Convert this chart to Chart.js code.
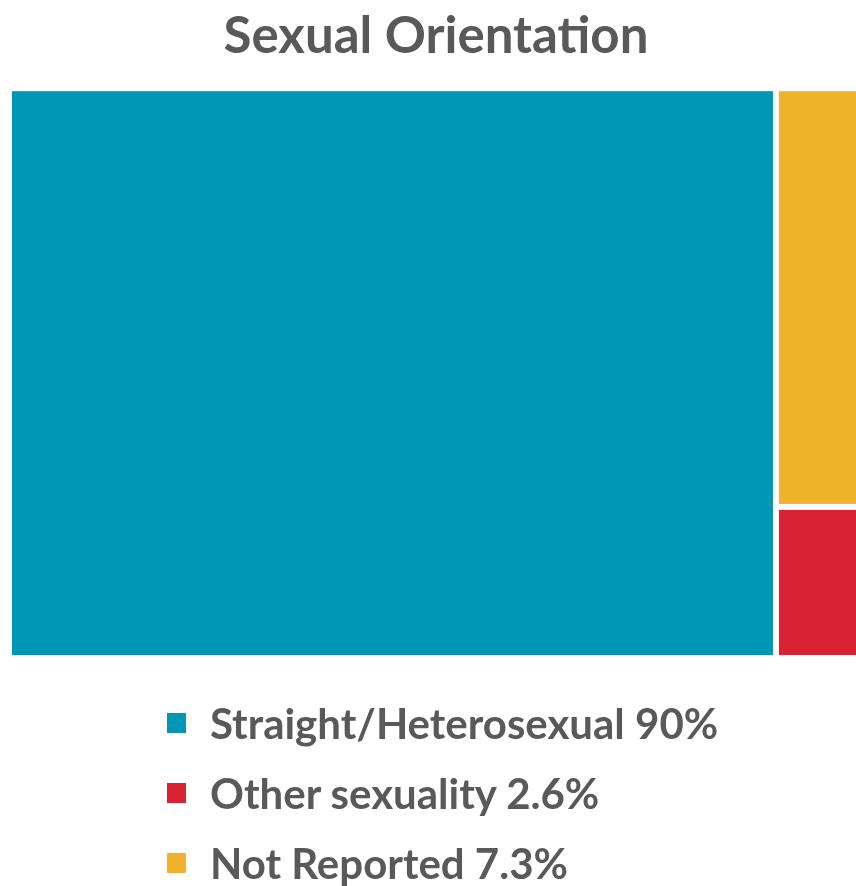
<!DOCTYPE html>
<html>
<head>
<meta charset="utf-8">
<script src="https://cdn.jsdelivr.net/npm/chart.js@4.4.0/dist/chart.umd.min.js"></script>
<style>
    html, body { margin: 0; padding: 0; background: #fff; overflow: hidden; }
    #wrap { position: relative; width: 856px; height: 886px; overflow: hidden; }
    #legend {
        position: absolute; left: 167px; top: 688px;
        list-style: none; margin: 0; padding: 0;
        font-family: Lato, "Open Sans", sans-serif; font-weight: bold;
        font-size: 42px; color: #595959;
    }
    #legend li { display: flex; align-items: center; height: 70px; }
    #legend .box { width: 19px; height: 20px; margin-right: 24px; flex-shrink: 0; }
</style>
</head>
<body>
<div id="wrap">
    <canvas id="chart" width="860" height="886"></canvas>
    <ul id="legend"></ul>
</div>
<script>
// Data
const categories = ['Straight/Heterosexual', 'Other sexuality', 'Not Reported'];
const values = [90, 2.6, 7.3];
const valueLabels = ['90%', '2.6%', '7.3%'];
const colors = ['#0096B6', '#D92232', '#F0B22A'];

const total = values.reduce((a, b) => a + b, 0);
const GAP = 6;

/**
 * Lay out the treemap in data units: the first (largest) item takes a full
 * column, the others share the remaining column, stacked top to bottom
 */
function layoutTreemap() {
    const rects = [];
    const leftW = values[0];
    rects.push({ i: 0, x0: 0, x1: leftW, y0: 0, y1: 100 });

    // right column: Not Reported on top, Other sexuality below
    const restOrder = [2, 1];
    const restTotal = restOrder.reduce((s, i) => s + values[i], 0);
    let yTop = 100;
    restOrder.forEach(i => {
        const h = values[i] / restTotal * 100;
        rects.push({ i: i, x0: leftW, x1: total, y0: yTop - h, y1: yTop });
        yTop -= h;
    });
    return rects;
}

const treemapPlugin = {
    id: 'treemapRects',
    beforeDatasetsDraw(chart) {
        const { ctx, chartArea, scales } = chart;
        const x = scales.x, y = scales.y;
        ctx.save();
        layoutTreemap().forEach(r => {
            let left = x.getPixelForValue(r.x0);
            let right = x.getPixelForValue(r.x1);
            let top = y.getPixelForValue(r.y1);
            let bottom = y.getPixelForValue(r.y0);
            // white gaps only between tiles
            if (left > chartArea.left + 1) left += GAP / 2;
            if (right < chartArea.right - 1) right -= GAP / 2;
            if (top > chartArea.top + 1) top += GAP / 2;
            if (bottom < chartArea.bottom - 1) bottom -= GAP / 2;
            ctx.fillStyle = colors[r.i];
            ctx.fillRect(left, top, right - left, bottom - top);
        });
        ctx.restore();
    }
};

document.addEventListener('DOMContentLoaded', function() {
    const ctx = document.getElementById('chart').getContext('2d');
    new Chart(ctx, {
        type: 'scatter',
        data: {
            datasets: [{ label: 'tiles', data: [], pointRadius: 0 }]
        },
        options: {
            responsive: false,
            animation: false,
            layout: { padding: { left: 12, right: 0, top: 0, bottom: 231 } },
            scales: {
                x: { type: 'linear', min: 0, max: total, display: false },
                y: { type: 'linear', min: 0, max: 100, display: false }
            },
            plugins: {
                legend: { display: false },
                tooltip: { enabled: false },
                title: {
                    display: true,
                    text: 'Sexual Orientation',
                    color: '#595959',
                    font: { family: 'Lato, "Open Sans", sans-serif', size: 51, weight: 'bold', lineHeight: 1.2 },
                    padding: { top: 6, bottom: 24 }
                }
            }
        },
        plugins: [treemapPlugin]
    });

    // Legend list
    const legend = document.getElementById('legend');
    categories.forEach((name, i) => {
        const li = document.createElement('li');
        li.innerHTML = `<span class="box" style="background:${colors[i]}"></span><span>${name} ${valueLabels[i]}</span>`;
        legend.appendChild(li);
    });
});
</script>
</body>
</html>
